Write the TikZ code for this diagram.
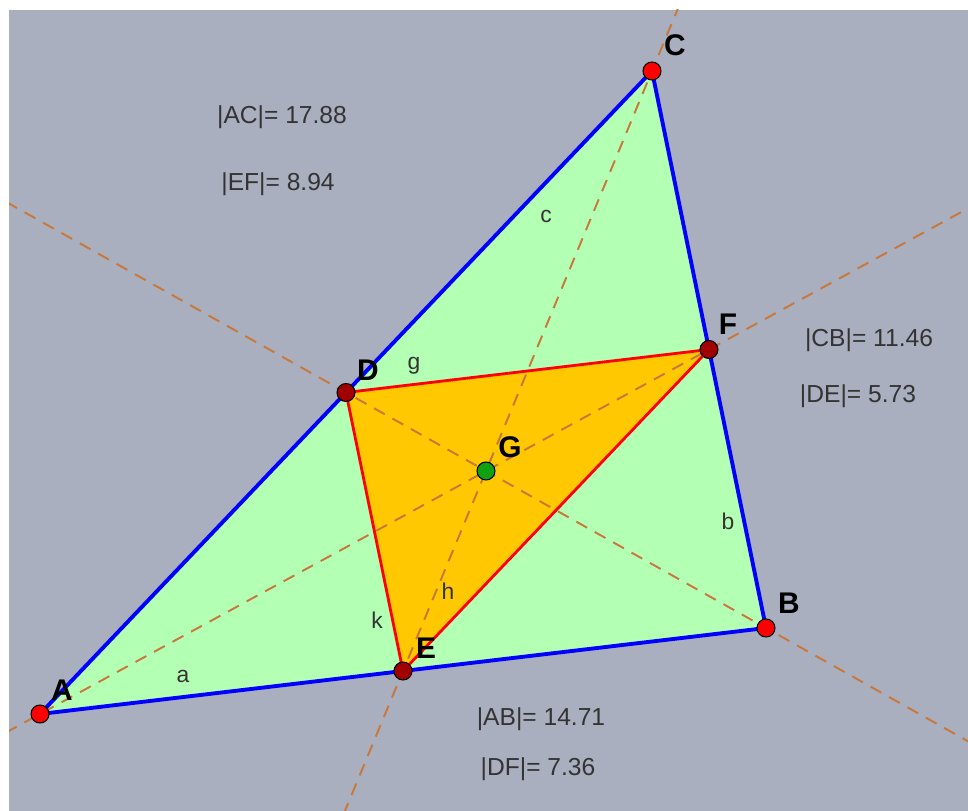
\documentclass[tikz,border=0pt]{standalone}
\usepackage{fontspec}
\setmainfont{Liberation Sans}
\usepackage{xcolor}
\usepackage{tikz}
\usetikzlibrary{calc}

\definecolor{bggray}{HTML}{A9AFBE}
\definecolor{bigfill}{HTML}{B3FFB3}
\definecolor{smallfill}{HTML}{FFC800}
\definecolor{medcol}{HTML}{C8783C}
\definecolor{darkred}{HTML}{A00000}
\definecolor{cengreen}{HTML}{10A010}
\definecolor{txtgray}{HTML}{333333}

\begin{document}
\begin{tikzpicture}[
    x=0.02cm, y=-0.02cm,
    side/.style={blue,line width=2.2pt,line join=round},
    midside/.style={red,line width=1.6pt,line join=round},
    median/.style={medcol,line width=1.1pt,dash pattern=on 7pt off 5pt},
    freept/.style={
        circle,draw=black,fill=red,
        line width=0.6pt,
        minimum size=0.36cm,
        inner sep=0pt
    },
    midpt/.style={freept,fill=darkred},
    cenpt/.style={freept,fill=cengreen},
    ptlabel/.style={font=\bfseries\fontsize{17}{19}\selectfont},
    edgelabel/.style={text=txtgray,font=\fontsize{13}{15}\selectfont},
    measure/.style={text=txtgray,font=\fontsize{14}{16}\selectfont}
]
\useasboundingbox (0,0) rectangle (968,811);
\fill[white] (0,0) rectangle (968,811);
\fill[bggray] (9,10) rectangle (968,811);

\coordinate (A) at (40,714);
\coordinate (B) at (766,628);
\coordinate (C) at (652,71);
\coordinate (D) at ($(A)!0.5!(C)$);
\coordinate (E) at ($(A)!0.5!(B)$);
\coordinate (F) at ($(C)!0.5!(B)$);
\coordinate (G) at ($1/3*(A)+1/3*(B)+1/3*(C)$);

\fill[bigfill] (A) -- (B) -- (C) -- cycle;
\fill[smallfill] (D) -- (E) -- (F) -- cycle;

\begin{scope}
\clip (9,10) rectangle (968,811);
\draw[median] ($(C)!-0.5!(E)$) -- ($(C)!1.5!(E)$);
\draw[median] ($(A)!-0.3!(F)$) -- ($(A)!1.8!(F)$);
\draw[median] ($(B)!-0.8!(D)$) -- ($(B)!2.2!(D)$);
\end{scope}

\draw[side] (A) -- (B);
\draw[side] (B) -- (C);
\draw[side] (C) -- (A);
\draw[midside] (D) -- (E);
\draw[midside] (E) -- (F);
\draw[midside] (F) -- (D);

\node[freept] (pA) at (A) {};
\node[freept] (pB) at (B) {};
\node[freept] (pC) at (C) {};
\node[midpt] (pD) at (D) {};
\node[midpt] (pE) at (E) {};
\node[midpt] (pF) at (F) {};
\node[cenpt] (pG) at (G) {};

\node[ptlabel] (lblA) at (62,690) {A};
\node[ptlabel] (lblB) at (789,603) {B};
\node[ptlabel] (lblC) at (675,45) {C};
\node[ptlabel] (lblD) at (368,370) {D};
\node[ptlabel] (lblE) at (426,648) {E};
\node[ptlabel] (lblF) at (728,324) {F};
\node[ptlabel] (lblG) at (510,447) {G};

\node[edgelabel] (lbla) at (183,676) {a};
\node[edgelabel] (lblb) at (728,521) {b};
\node[edgelabel] (lblc) at (546,216) {c};
\node[edgelabel] (lblg) at (414,366) {g};
\node[edgelabel] (lblh) at (448,591) {h};
\node[edgelabel] (lblk) at (377,620) {k};

\node[measure] (mAC) at (282,117) {|AC|= 17.88};
\node[measure] (mEF) at (278,184) {|EF|= 8.94};
\node[measure] (mCB) at (869,340) {|CB|= 11.46};
\node[measure] (mDE) at (858,396) {|DE|= 5.73};
\node[measure] (mAB) at (541,719) {|AB|= 14.71};
\node[measure] (mDF) at (538,769) {|DF|= 7.36};
\end{tikzpicture}
\end{document}
